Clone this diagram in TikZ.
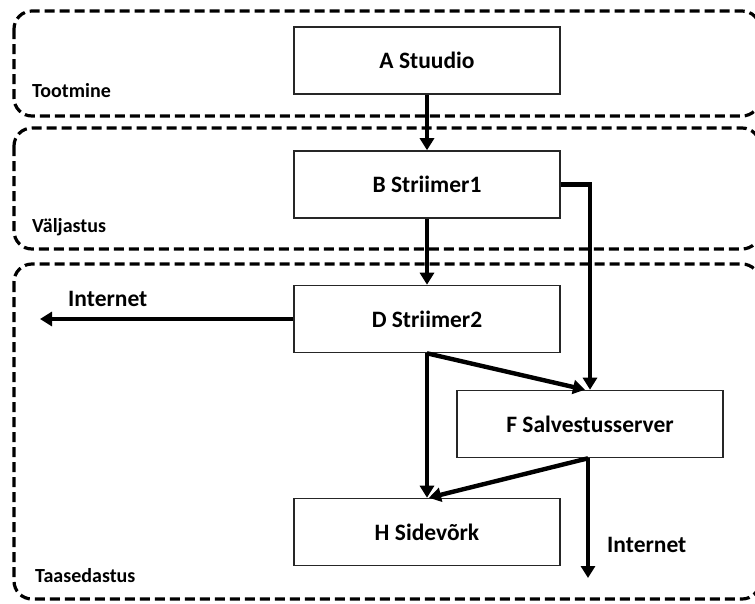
\documentclass[tikz,border=0pt]{standalone}
\usepackage{fontspec}
\setmainfont{Carlito}
\usetikzlibrary{arrows.meta,calc}
\begin{document}
\begin{tikzpicture}[x=1pt,y=-1pt,
  stagebox/.style={draw=black,line width=3.2pt,dash pattern=on 10pt off 5pt,rounded corners=18pt},
  stagelabel/.style={anchor=base west,inner sep=0pt,font=\fontsize{20}{22}\selectfont\bfseries},
  unit/.style={draw=black!85,line width=1.6pt,fill=white,minimum width=266pt,minimum height=67pt,
    inner sep=0pt,font=\fontsize{23.5}{26}\selectfont\bfseries},
  flow/.style={line width=4.4pt,-{Triangle[length=12pt,width=14pt]}},
  netlabel/.style={anchor=base west,inner sep=0pt,font=\fontsize{23.5}{26}\selectfont\bfseries}]
  \useasboundingbox (0,0) rectangle (755,603);
  \clip (0,0) rectangle (755,603);
  \fill[white] (0,0) rectangle (755,603);

  % stage frames
  \draw[stagebox] (14,11) rectangle (760,116);
  \draw[stagebox] (14,128) rectangle (760,249);
  \draw[stagebox] (14,264) rectangle (760,599);
  \node[stagelabel] (lprod) at (32,97) {Tootmine};
  \node[stagelabel] (lout) at (32,232) {Väljastus};
  \node[stagelabel] (lre) at (35,582) {Taasedastus};

  % units
  \node[unit] (A) at (427,60.5) {A Stuudio};
  \node[unit] (B) at (427,184.5) {B Striimer1};
  \node[unit] (D) at (427,319) {D Striimer2};
  \node[unit] (F) at (590,424) {F Salvestusserver};
  \node[unit] (H) at (427,532) {H Sidevõrk};

  \coordinate (netD) at (40,319);
  \coordinate (netF) at (588,578);
  \node[netlabel] (iD) at (68,306) {Internet};
  \node[netlabel] (iF) at (607,552) {Internet};

  % connections
  \draw[flow] (A.south) -- (B.north);
  \draw[flow] (B.south) -- (D.north);
  \draw[flow] (B.east) -| (F.north);
  \draw[flow] (D.south) -- ([xshift=-5pt]F.north);
  \draw[flow] (D.south) -- (H.north);
  \draw[flow] ([xshift=-2pt]F.south) -- ([xshift=2pt]H.north);
  \draw[flow] ([xshift=-2pt]F.south) -- (netF);
  \draw[flow] (D.west) -- (netD);
\end{tikzpicture}
\end{document}
